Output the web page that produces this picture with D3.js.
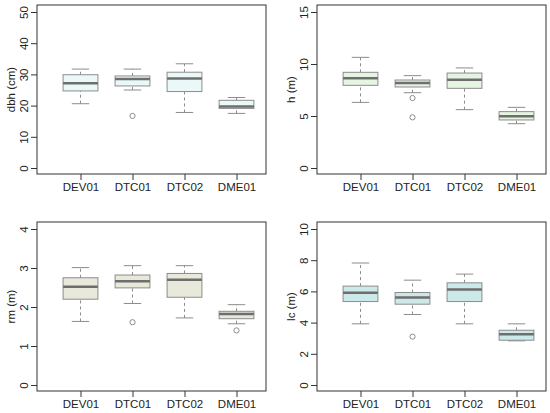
<!DOCTYPE html>
<html>
<head>
<meta charset="utf-8">
<script src="https://cdn.jsdelivr.net/npm/d3@7"></script>
<style>
    body { margin: 0; background: #fff; }
    text { font-family: Arial, "Liberation Sans", sans-serif; fill: #222; }
</style>
</head>
<body>
<div id="wrapper"></div>
<script>
// data: [lower whisker, Q1, median, Q3, upper whisker]
const categories = ["DEV01", "DTC01", "DTC02", "DME01"]

const dbhStats = [[20.6, 24.7, 27.2, 29.9, 31.7], [25.0, 26.3, 28.5, 29.5, 31.7], [17.8, 24.5, 28.7, 30.7, 33.4], [17.5, 19.1, 19.7, 21.7, 22.6]]
const dbhOutliers = [[], [16.7], [], []]
const dbhTicks = [0, 10, 20, 30, 40, 50]

const hStats = [[6.31, 7.95, 8.62, 9.2, 10.64], [7.24, 7.79, 8.17, 8.46, 8.88], [5.61, 7.66, 8.49, 9.13, 9.62], [4.26, 4.62, 4.97, 5.42, 5.83]]
const hOutliers = [[], [6.73, 4.87], [], []]
const hTicks = [0, 5, 10, 15]

const rmStats = [[1.63, 2.2, 2.52, 2.75, 3.01], [2.09, 2.49, 2.66, 2.82, 3.06], [1.72, 2.25, 2.7, 2.86, 3.06], [1.57, 1.7, 1.82, 1.89, 2.06]]
const rmOutliers = [[], [1.61], [], [1.4]]
const rmTicks = [0, 1, 2, 3, 4]

const lcStats = [[3.92, 5.35, 5.91, 6.34, 7.82], [4.52, 5.18, 5.61, 5.93, 6.72], [3.92, 5.35, 6.12, 6.55, 7.11], [2.83, 2.87, 3.25, 3.51, 3.92]]
const lcOutliers = [[], [3.1], [], []]
const lcTicks = [0, 2, 4, 6, 8, 10]

const panels = [
    { label: "dbh (cm)", stats: dbhStats, outliers: dbhOutliers, ticks: dbhTicks, fill: "#eaf8f8", left: 37, top: 5 },
    { label: "h (m)", stats: hStats, outliers: hOutliers, ticks: hTicks, fill: "#e6f4e2", left: 317, top: 5 },
    { label: "rm (m)", stats: rmStats, outliers: rmOutliers, ticks: rmTicks, fill: "#e9e9db", left: 37, top: 222 },
    { label: "lc (m)", stats: lcStats, outliers: lcOutliers, ticks: lcTicks, fill: "#cde8e8", left: 317, top: 222 }
]

const wrapper = d3.select("#wrapper")
    .append("svg")
    .attr("width", 550)
    .attr("height", 413)

const boxStroke = "#8c8c8c"

panels.forEach(p => {
    const dims = { width: 229, height: 169, padTop: 7, padBottom: 6 }

    const bounds = wrapper.append("g")
        .attr("transform", `translate(${p.left}, ${p.top})`)

    const yScale = d3.scaleLinear()
        .domain([p.ticks[0], p.ticks[p.ticks.length - 1]])
        .range([dims.height - dims.padBottom, dims.padTop])

    const xScale = d3.scalePoint()
        .domain(categories)
        .range([43.5, 199.5])

    const step = xScale.step()
    const boxW = step * 0.67
    const capW = boxW * 0.5

    // peripherals
    const yAxis = bounds.append("g")
        .call(d3.axisLeft(yScale).tickValues(p.ticks).tickFormat(d3.format("d")).tickSize(6).tickSizeOuter(0))
    yAxis.select(".domain").remove()
    yAxis.selectAll("line").attr("stroke", "#333")
    yAxis.selectAll("text")
        .attr("transform", "rotate(-90)")
        .attr("x", 0)
        .attr("y", -9)
        .attr("dy", 0)
        .attr("text-anchor", "middle")
        .style("font-size", "11.5px")
        .attr("fill", "#222")

    const xAxis = bounds.append("g")
        .attr("transform", `translate(0, ${dims.height})`)
        .call(d3.axisBottom(xScale).tickSize(6).tickSizeOuter(0))
    xAxis.select(".domain").remove()
    xAxis.selectAll("line").attr("stroke", "#333")
    xAxis.selectAll("text")
        .style("font-size", "11.5px")
        .attr("fill", "#222")

    bounds.append("text")
        .attr("transform", `translate(-22, ${dims.height / 2}) rotate(-90)`)
        .attr("text-anchor", "middle")
        .style("font-size", "11.5px")
        .text(p.label)

    // draw data
    const groups = bounds.append("g")
        .selectAll("g")
        .data(categories.map((c, i) => ({ cat: c, s: p.stats[i], out: p.outliers[i] })))
        .enter().append("g")
        .attr("transform", d => `translate(${xScale(d.cat)}, 0)`)

    // whiskers
    groups.append("line")
        .attr("y1", d => yScale(d.s[0]))
        .attr("y2", d => yScale(d.s[1]))
        .attr("stroke", boxStroke)
        .attr("stroke-dasharray", "3,3")
    groups.append("line")
        .attr("y1", d => yScale(d.s[3]))
        .attr("y2", d => yScale(d.s[4]))
        .attr("stroke", boxStroke)
        .attr("stroke-dasharray", "3,3")

    // caps
    groups.append("line")
        .attr("x1", -capW / 2).attr("x2", capW / 2)
        .attr("y1", d => yScale(d.s[0])).attr("y2", d => yScale(d.s[0]))
        .attr("stroke", boxStroke)
    groups.append("line")
        .attr("x1", -capW / 2).attr("x2", capW / 2)
        .attr("y1", d => yScale(d.s[4])).attr("y2", d => yScale(d.s[4]))
        .attr("stroke", boxStroke)

    // boxes
    groups.append("rect")
        .attr("x", -boxW / 2)
        .attr("width", boxW)
        .attr("y", d => yScale(d.s[3]))
        .attr("height", d => yScale(d.s[1]) - yScale(d.s[3]))
        .attr("fill", p.fill)
        .attr("stroke", boxStroke)

    // medians
    groups.append("line")
        .attr("x1", -boxW / 2).attr("x2", boxW / 2)
        .attr("y1", d => yScale(d.s[2])).attr("y2", d => yScale(d.s[2]))
        .attr("stroke", "#6e6e6e")
        .attr("stroke-width", 2.5)

    // outliers
    groups.selectAll("circle")
        .data(d => d.out)
        .enter().append("circle")
        .attr("cy", d => yScale(d))
        .attr("r", 2.6)
        .attr("fill", "none")
        .attr("stroke", boxStroke)

    // frame
    bounds.append("rect")
        .attr("width", dims.width)
        .attr("height", dims.height)
        .attr("fill", "none")
        .attr("stroke", "#333")
})
</script>
</body>
</html>
